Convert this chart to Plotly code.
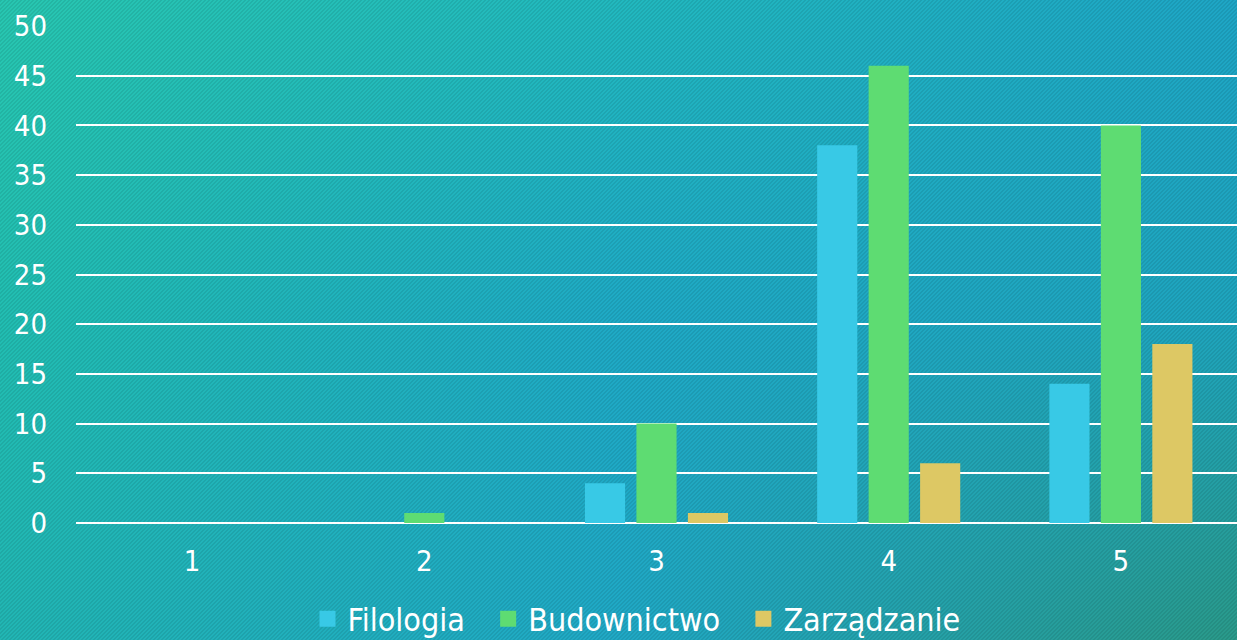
import base64, struct, zlib
import numpy as np
import plotly.graph_objects as go

categories = ["1", "2", "3", "4", "5"]
filologia = [0, 0, 4, 38, 14]
budownictwo = [0, 1, 10, 46, 40]
zarzadzanie = [0, 0, 1, 6, 18]
series_names = ["Filologia", "Budownictwo", "Zarządzanie"]
series_colors = ["#38C9E6", "#5EDC72", "#DDC864"]
y_ticks = [0, 5, 10, 15, 20, 25, 30, 35, 40, 45, 50]

W, H = 1237, 640
ML, MR, MT, MB = 76, 0, 26, 117

# ---- background image: gradient with fine diagonal stripes ----
def hex2rgb(h):
    h = h.lstrip("#")
    return [int(h[i:i + 2], 16) for i in (0, 2, 4)]

grid = np.array([
    [hex2rgb("#28C7B1"), hex2rgb("#22B9BF"), hex2rgb("#1EA6C6")],
    [hex2rgb("#22BEB2"), hex2rgb("#1FAAC6"), hex2rgb("#1FA5BE")],
    [hex2rgb("#22B6B4"), hex2rgb("#20A9C6"), hex2rgb("#2A9A8A")],
], dtype=float)
u = np.linspace(0, 2, W)
v = np.linspace(0, 2, H)
U, V = np.meshgrid(u, v)
i0 = np.clip(np.floor(V).astype(int), 0, 1)
j0 = np.clip(np.floor(U).astype(int), 0, 1)
fv = (V - i0)[..., None]
fu = (U - j0)[..., None]
c00 = grid[i0, j0]
c01 = grid[i0, j0 + 1]
c10 = grid[i0 + 1, j0]
c11 = grid[i0 + 1, j0 + 1]
img = (c00 * (1 - fu) * (1 - fv) + c01 * fu * (1 - fv) + c10 * (1 - fu) * fv + c11 * fu * fv)
X, Y = np.meshgrid(np.arange(W), np.arange(H))
stripe = ((X + Y) % 4) < 2
img[stripe] *= 0.92
img = np.clip(img, 0, 255).astype(np.uint8)

raw = b"".join(b"\x00" + img[r].tobytes() for r in range(H))
def chunk(t, d):
    c = struct.pack(">I", len(d)) + t + d
    return c + struct.pack(">I", zlib.crc32(t + d) & 0xffffffff)
png = b"\x89PNG\r\n\x1a\n" + chunk(b"IHDR", struct.pack(">IIBBBBB", W, H, 8, 2, 0, 0, 0)) \
    + chunk(b"IDAT", zlib.compress(raw, 9)) + chunk(b"IEND", b"")
bg_uri = "data:image/png;base64," + base64.b64encode(png).decode()

PW = W - ML - MR
PH = H - MT - MB

FONT = "DejaVu Sans Condensed, Liberation Sans Narrow, Roboto, sans-serif"

fig = go.Figure()
for name, vals, col in zip(series_names, [filologia, budownictwo, zarzadzanie], series_colors):
    fig.add_trace(go.Bar(x=categories, y=vals, name=name, marker=dict(color=col, line=dict(width=0)),
                         showlegend=False))
pads = ["\u00a0\u00a0", "\u00a0\u00a0", ""]
for name, col, pad in zip(series_names, series_colors, pads):
    fig.add_trace(go.Scatter(x=[None], y=[None], mode="markers", name=name + pad,
                             marker=dict(symbol="square", size=18, color=col)))

fig.update_layout(
    width=W, height=H,
    margin=dict(l=ML, r=MR, t=MT, b=MB, pad=0, autoexpand=False),
    paper_bgcolor="#20AFBE",
    plot_bgcolor="rgba(0,0,0,0)",
    barmode="group",
    bargap=0.335,
    bargroupgap=0.22,
    font=dict(family=FONT, color="white", size=29),
    images=[dict(source=bg_uri, xref="paper", yref="paper",
                 x=-ML / PW, y=1 + MT / PH, sizex=W / PW, sizey=H / PH,
                 xanchor="left", yanchor="top", sizing="stretch", layer="below")],
    xaxis=dict(type="category", showgrid=False, zeroline=False, showline=False,
               ticks="", tickfont=dict(size=29, color="white"), ticklabelstandoff=18),
    yaxis=dict(range=[0, 50], tickvals=y_ticks, showgrid=True, gridcolor="white", gridwidth=2,
               zeroline=True, zerolinecolor="white", zerolinewidth=2, showline=False,
               ticks="", tickfont=dict(size=29, color="white"), ticklabelstandoff=28),
    legend=dict(orientation="h", xref="container", yref="container",
                x=636.5 / W, xanchor="center", y=(H - 619) / H, yanchor="middle",
                font=dict(size=32, color="white"), bgcolor="rgba(0,0,0,0)",
                itemsizing="trace", itemwidth=30, tracegroupgap=0),
    showlegend=True,
)
fig.write_html("out.html", config={"displayModeBar": False},
               post_script="document.body.style.margin='0';")
